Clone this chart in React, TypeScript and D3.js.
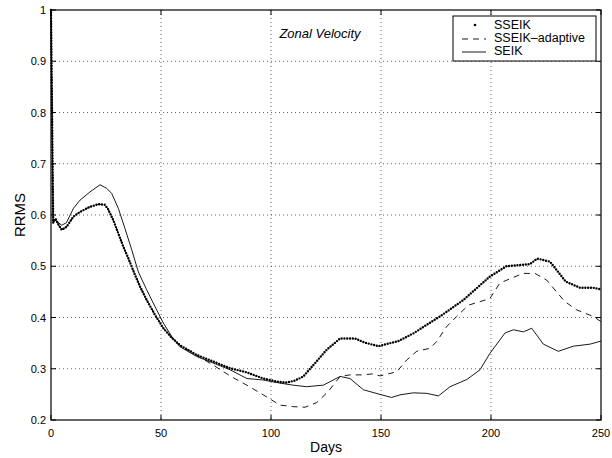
import React from "react";
import * as d3 from "d3";

const xTicks = [0, 50, 100, 150, 200, 250];
const yTicks = [0.2, 0.3, 0.4, 0.5, 0.6, 0.7, 0.8, 0.9, 1];

const sseikDays = [0, 1, 2, 3.3, 4.85, 7.1, 10.2, 13.2, 17.7, 21.5, 24.5, 26, 28.3, 30.6, 32.9, 35.2, 38.2, 40.5, 43.5, 47.3, 51.1, 55, 58.6, 66.2, 73.8, 81.4, 89, 96.5, 102.6, 107.1, 110.9, 114.7, 119.2, 125.3, 131.4, 138.2, 142.7, 148.8, 153.3, 157.9, 164.7, 176.8, 187.4, 199.5, 207, 217.7, 221, 226.8, 234, 240.5, 246.5, 250];
const sseikVals = [1, 0.585, 0.593, 0.582, 0.571, 0.577, 0.597, 0.606, 0.616, 0.621, 0.62, 0.611, 0.59, 0.564, 0.538, 0.515, 0.483, 0.46, 0.434, 0.405, 0.379, 0.36, 0.346, 0.327, 0.314, 0.301, 0.293, 0.281, 0.275, 0.273, 0.277, 0.285, 0.307, 0.337, 0.359, 0.359, 0.351, 0.344, 0.349, 0.354, 0.369, 0.402, 0.434, 0.48, 0.5, 0.504, 0.515, 0.509, 0.47, 0.458, 0.458, 0.455];

const adaptiveDays = [0, 1, 2, 3.3, 4.85, 7.1, 10.2, 13.2, 17.7, 21.5, 24.5, 26, 28.3, 30.6, 32.9, 35.2, 38.2, 40.5, 43.5, 47.3, 51.1, 55, 58.6, 66.2, 73.8, 81.4, 89, 96.5, 104.1, 110.2, 115.5, 120.8, 126.1, 131.4, 135.9, 141.2, 146.5, 149.5, 153.3, 157.1, 161.7, 166.2, 172.3, 175.3, 179.8, 184.4, 189.7, 195, 199.5, 204, 209.4, 214.7, 220, 225.3, 229.8, 233.6, 238.9, 246.5, 250];
const adaptiveVals = [1, 0.585, 0.593, 0.582, 0.571, 0.577, 0.597, 0.606, 0.616, 0.621, 0.62, 0.611, 0.59, 0.564, 0.538, 0.515, 0.483, 0.46, 0.434, 0.405, 0.379, 0.36, 0.346, 0.326, 0.307, 0.286, 0.268, 0.249, 0.229, 0.226, 0.225, 0.234, 0.256, 0.285, 0.288, 0.288, 0.29, 0.286, 0.29, 0.294, 0.317, 0.334, 0.34, 0.353, 0.382, 0.402, 0.424, 0.431, 0.437, 0.467, 0.477, 0.486, 0.486, 0.473, 0.45, 0.431, 0.415, 0.402, 0.392];

const seikDays = [0, 1, 2, 4.85, 7, 10.2, 13.2, 17.7, 22.3, 25.3, 27.6, 30.6, 33.6, 36.7, 39.7, 43.5, 47.3, 51.1, 55, 58.6, 66.2, 73.8, 81.4, 89, 96.5, 104.1, 110, 116.2, 123.8, 131.4, 135.9, 142, 149.5, 154.8, 158.6, 164.7, 170.8, 176.1, 181.4, 189, 195, 199.5, 206.4, 210.2, 214.7, 218.5, 223.8, 230.6, 237.4, 245, 250];
const seikVals = [1, 0.585, 0.59, 0.58, 0.585, 0.613, 0.629, 0.645, 0.659, 0.652, 0.642, 0.613, 0.574, 0.532, 0.489, 0.454, 0.421, 0.389, 0.362, 0.343, 0.324, 0.311, 0.298, 0.281, 0.278, 0.272, 0.268, 0.265, 0.268, 0.285, 0.281, 0.259, 0.25, 0.244, 0.249, 0.253, 0.252, 0.247, 0.265, 0.279, 0.298, 0.33, 0.37, 0.376, 0.372, 0.379, 0.348, 0.334, 0.344, 0.348, 0.354];

const legendLabels = ["SSEIK", "SSEIK\u2013adaptive", "SEIK"];

const W = 612, H = 458;
const L = 51, R = 601, T = 10, B = 420;

export default function App() {
  const x = d3.scaleLinear().domain([0, 250]).range([L, R]);
  const y = d3.scaleLinear().domain([0.2, 1]).range([B, T]);
  const line = d3.line<[number, number]>().x(d => x(d[0])).y(d => y(d[1]));
  const zip = (a: number[], b: number[]) => a.map((v, i) => [v, b[i]] as [number, number]);
  const font = "'Liberation Sans', Arial, Helvetica, sans-serif";

  return (
    <svg width={W} height={H} style={{ position: "absolute", left: 0, top: 0, background: "#fff" }} fontFamily={font}>
      <rect x={0} y={0} width={W} height={H} fill="#fff" />
      {/* grid */}
      {xTicks.filter(t => t > 0 && t < 250).map(t => (
        <line key={"gx" + t} x1={x(t)} x2={x(t)} y1={T} y2={B} stroke="#000" strokeWidth={0.6} strokeDasharray="1,3" />
      ))}
      {yTicks.filter(t => t > 0.2 && t < 1).map(t => (
        <line key={"gy" + t} x1={L} x2={R} y1={y(t)} y2={y(t)} stroke="#000" strokeWidth={0.6} strokeDasharray="1,3" />
      ))}
      {/* series */}
      <path d={line(zip(seikDays, seikVals)) || ""} fill="none" stroke="#000" strokeWidth={0.9} />
      <path d={line(zip(adaptiveDays, adaptiveVals)) || ""} fill="none" stroke="#000" strokeWidth={0.9} strokeDasharray="6,5" />
      <path d={line(zip(sseikDays, sseikVals)) || ""} fill="none" stroke="#000" strokeWidth={2.4} strokeLinecap="round" strokeDasharray="0,2.8" />
      {/* axes box */}
      <rect x={L} y={T} width={R - L} height={B - T} fill="none" stroke="#000" strokeWidth={1.2} />
      {xTicks.map(t => (
        <g key={"xt" + t}>
          <line x1={x(t)} x2={x(t)} y1={B} y2={B - 5} stroke="#000" />
          <line x1={x(t)} x2={x(t)} y1={T} y2={T + 5} stroke="#000" />
          <text x={x(t)} y={437} fontSize={11} textAnchor="middle">{t}</text>
        </g>
      ))}
      {yTicks.map(t => (
        <g key={"yt" + t}>
          <line x1={L} x2={L + 5} y1={y(t)} y2={y(t)} stroke="#000" />
          <line x1={R} x2={R - 5} y1={y(t)} y2={y(t)} stroke="#000" />
          <text x={46} y={y(t) + 4} fontSize={11} textAnchor="end">{d3.format("")(+t.toFixed(1))}</text>
        </g>
      ))}
      <text x={326} y={452} fontSize={14} textAnchor="middle">Days</text>
      <text transform={`translate(25,${(T + B) / 2}) rotate(-90)`} fontSize={15} textAnchor="middle">RRMS</text>
      <text x={320} y={38} fontSize={13} fontStyle="italic" textAnchor="middle">Zonal Velocity</text>
      {/* legend */}
      <rect x={453} y={16} width={143} height={45} fill="#fff" stroke="#000" strokeWidth={1} />
      <circle cx={475} cy={25} r={1.3} fill="#000" />
      <line x1={462} x2={486} y1={39} y2={39} stroke="#000" strokeWidth={0.9} strokeDasharray="6,5" />
      <line x1={462} x2={486} y1={52} y2={52} stroke="#000" strokeWidth={0.9} />
      {legendLabels.map((lab, i) => (
        <text key={lab} x={494} y={29 + i * 13} fontSize={12.5}>{lab}</text>
      ))}
    </svg>
  );
}
